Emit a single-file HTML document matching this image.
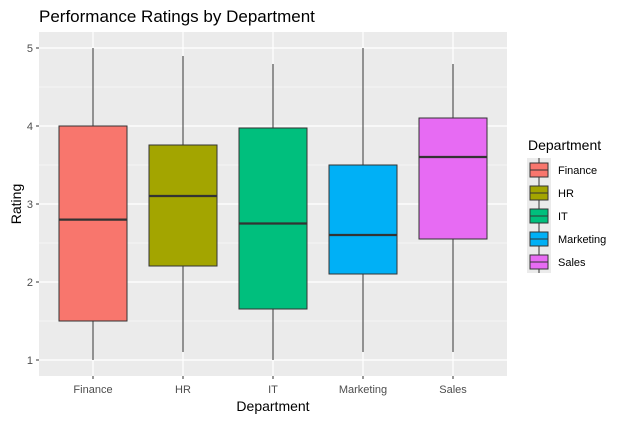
<!DOCTYPE html>
<html><head><style>body{margin:0;background:#fff}svg{display:block}</style></head><body>
<svg width="626" height="421" xmlns="http://www.w3.org/2000/svg" font-family="Liberation Sans, sans-serif">
<rect width="626" height="421" fill="#fff"/>
<rect x="39" y="32" width="468" height="344" fill="#ebebeb"/>
<g stroke="#fff" stroke-width="0.6">
<line x1="39" x2="507" y1="87" y2="87"/><line x1="39" x2="507" y1="165" y2="165"/><line x1="39" x2="507" y1="243" y2="243"/><line x1="39" x2="507" y1="321" y2="321"/>
</g>
<g stroke="#fff" stroke-width="1.2">
<line x1="39" x2="507" y1="48" y2="48"/><line x1="39" x2="507" y1="126" y2="126"/><line x1="39" x2="507" y1="204" y2="204"/><line x1="39" x2="507" y1="282" y2="282"/><line x1="39" x2="507" y1="360" y2="360"/>
<line x1="93" x2="93" y1="32" y2="376"/><line x1="183" x2="183" y1="32" y2="376"/><line x1="273" x2="273" y1="32" y2="376"/><line x1="363" x2="363" y1="32" y2="376"/><line x1="453" x2="453" y1="32" y2="376"/>
</g>
<g stroke="#333" stroke-width="1">
<line x1="93" x2="93" y1="48" y2="360"/><line x1="183" x2="183" y1="56" y2="352"/><line x1="273" x2="273" y1="64" y2="360"/><line x1="363" x2="363" y1="48" y2="352"/><line x1="453" x2="453" y1="64" y2="352"/>
</g>
<g stroke="#333" stroke-width="1">
<rect x="59" y="126" width="68" height="195" fill="#F8766D"/>
<rect x="149" y="145" width="68" height="121" fill="#A3A500"/>
<rect x="239" y="128" width="68" height="181" fill="#00BF7D"/>
<rect x="329" y="165" width="68" height="109" fill="#00B0F6"/>
<rect x="419" y="118" width="68" height="121" fill="#E76BF3"/>
</g>
<g stroke="#333" stroke-width="2.2">
<line x1="59" x2="127" y1="219.6" y2="219.6"/><line x1="149" x2="217" y1="196" y2="196"/><line x1="239" x2="307" y1="223.5" y2="223.5"/><line x1="329" x2="397" y1="235" y2="235"/><line x1="419" x2="487" y1="157" y2="157"/>
</g>
<g stroke="#333" stroke-width="1">
<line x1="36" x2="39" y1="48" y2="48"/><line x1="36" x2="39" y1="126" y2="126"/><line x1="36" x2="39" y1="204" y2="204"/><line x1="36" x2="39" y1="282" y2="282"/><line x1="36" x2="39" y1="360" y2="360"/>
<line x1="93" x2="93" y1="376" y2="379"/><line x1="183" x2="183" y1="376" y2="379"/><line x1="273" x2="273" y1="376" y2="379"/><line x1="363" x2="363" y1="376" y2="379"/><line x1="453" x2="453" y1="376" y2="379"/>
</g>
<g fill="#4d4d4d" font-size="11" text-anchor="end">
<text x="33" y="52">5</text><text x="33" y="130">4</text><text x="33" y="208">3</text><text x="33" y="286">2</text><text x="33" y="364">1</text>
</g>
<g fill="#4d4d4d" font-size="11" text-anchor="middle">
<text x="93" y="393">Finance</text><text x="183" y="393">HR</text><text x="273" y="393">IT</text><text x="363" y="393">Marketing</text><text x="453" y="393">Sales</text>
</g>
<text x="273" y="411" text-anchor="middle" font-size="14" fill="#000">Department</text>
<text transform="translate(21,204) rotate(-90)" text-anchor="middle" font-size="14" fill="#000">Rating</text>
<text x="39" y="22" font-size="17" fill="#000">Performance Ratings by Department</text>
<text x="528" y="150" font-size="14" fill="#000">Department</text>
<rect x="527" y="158" width="24" height="115" fill="#ebebeb"/>
<g stroke="#333" stroke-width="1">
<line x1="539" x2="539" y1="158" y2="273"/>
</g>
<g stroke="#333" stroke-width="1">
<rect x="530" y="163" width="18" height="14" fill="#F8766D"/>
<rect x="530" y="186" width="18" height="14" fill="#A3A500"/>
<rect x="530" y="209" width="18" height="14" fill="#00BF7D"/>
<rect x="530" y="232" width="18" height="14" fill="#00B0F6"/>
<rect x="530" y="255" width="18" height="14" fill="#E76BF3"/>
<line x1="530" x2="548" y1="170" y2="170"/><line x1="530" x2="548" y1="193" y2="193"/><line x1="530" x2="548" y1="216" y2="216"/><line x1="530" x2="548" y1="239" y2="239"/><line x1="530" x2="548" y1="262" y2="262"/>
</g>
<g font-size="11" fill="#000">
<text x="558" y="174">Finance</text><text x="558" y="197">HR</text><text x="558" y="220">IT</text><text x="558" y="243">Marketing</text><text x="558" y="266">Sales</text>
</g>
</svg>
</body></html>
